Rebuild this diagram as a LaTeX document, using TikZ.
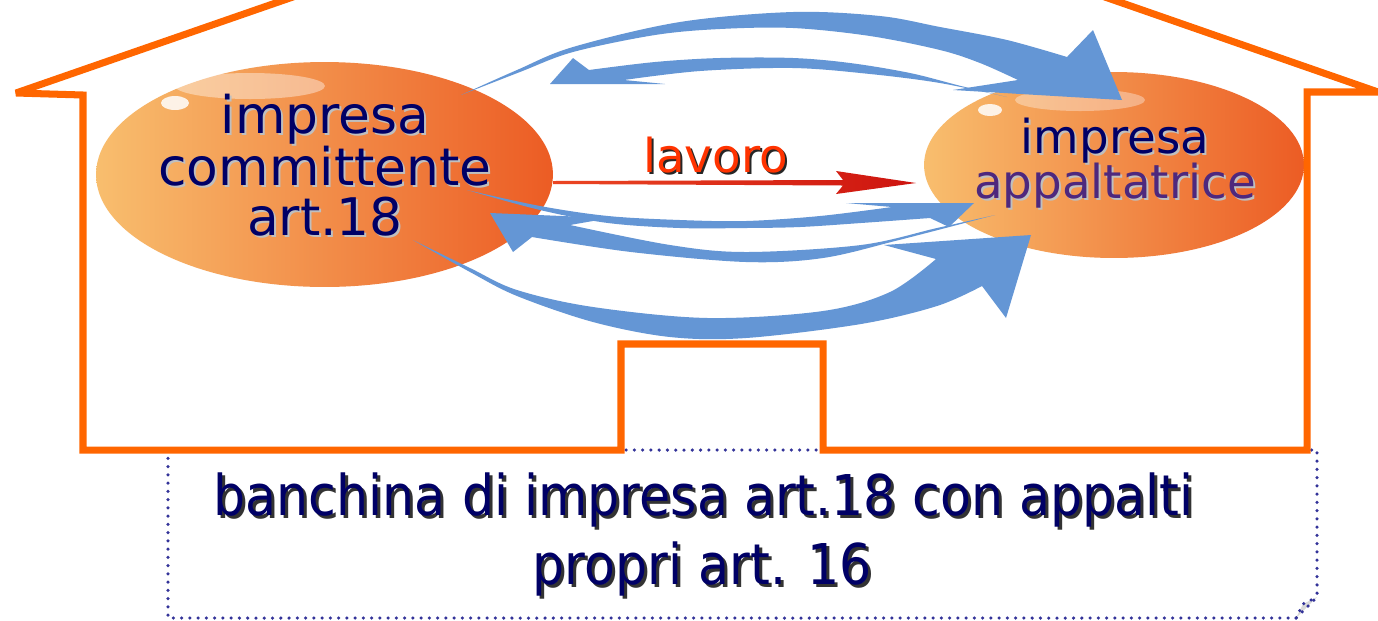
\documentclass[tikz,border=0pt]{standalone}
\usepackage{fontspec}
\setmainfont{DejaVu Sans}
\newfontfamily\condfont[FakeStretch=0.9]{DejaVu Sans}
\usetikzlibrary{shapes.geometric}
\definecolor{housec}{RGB}{255,102,0}
\definecolor{arrowc}{RGB}{100,150,213}
\definecolor{navyc}{RGB}{0,0,102}
\definecolor{purplec}{RGB}{78,40,125}
\definecolor{redc}{RGB}{255,51,0}
\definecolor{dotc}{RGB}{51,51,153}
\definecolor{orlight}{RGB}{248,190,110}
\definecolor{ormid}{RGB}{246,150,70}
\definecolor{ordark}{RGB}{236,92,36}
\definecolor{lavl}{RGB}{235,70,35}
\definecolor{lavr}{RGB}{205,20,15}
% name, position, font, colour, shadow colour, shadow shift, text
\newcommand\shlabel[7]{%
  \node[lbl, text=#4, font=#3] (#1) at #2
    {\rlap{\hspace{#6}\raisebox{-#6}{\textcolor{#5}{#7}}}#7};}
\begin{document}
\begin{tikzpicture}[x=0.02cm,y=-0.02cm,
  house/.style={draw=housec, line width=4pt, line join=miter, miter limit=3},
  flow/.style={fill=arrowc},
  dotbox/.style={draw=dotc, line width=2pt, line cap=round, dash pattern=on 0pt off 4.7pt},
  blob/.style={ellipse, inner sep=0pt, left color=orlight, middle color=ormid, right color=ordark},
  lbl/.style={anchor=base, inner sep=0pt, align=center},
  sm/.style={smooth, tension=0.55},
]
\useasboundingbox (0,0) rectangle (1378,620);
\fill[white] (0,0) rectangle (1378,620);

% dotted frame with folded corner
\fill[gray!30] (1296,618) -- (1317,597) -- (1303,604) -- cycle;
\draw[dotbox] (168,450) -- (168,618) -- (1296,618) -- (1317,597) -- (1317,450) -- cycle;
\draw[dotbox] (1296,618) -- (1303,604) -- (1317,597);

% the two companies
\node[blob, minimum width=9.14cm, minimum height=4.5cm] (L) at (324.5,174.5) {};
\node[blob, minimum width=7.6cm, minimum height=3.72cm] (R) at (1114,165) {};
\fill[white, opacity=0.40] (250,86) ellipse [x radius=1.5cm, y radius=0.26cm];
\fill[white, opacity=0.85] (175,103) ellipse [x radius=0.28cm, y radius=0.14cm];
\fill[white, opacity=0.35] (1080,100) ellipse [x radius=1.3cm, y radius=0.22cm];
\fill[white, opacity=0.85] (990,110) ellipse [x radius=0.24cm, y radius=0.12cm];

% blue flows
\fill[flow] (461,95) -- plot[sm] coordinates {(461,95) (517,70) (573,47) (680,22) (793,12) (880,16) (940,27) (1007,40) (1067,57)}
  -- (1093,30) -- (1122,100) -- (953,90) -- (1018,80)
  -- plot[sm] coordinates {(1018,80) (980,63) (940,50) (870,36) (793,28) (720,29) (655,35) (573,52) (520,72) (461,95)} -- cycle;
\fill[flow] (1007,97) -- plot[sm] coordinates {(1007,97) (961,86) (910,73) (850,63) (793,58) (720,58) (655,62) (589,70)}
  -- (573,58) -- (550,84) -- (665,84) -- (624,80)
  -- plot[sm] coordinates {(624,80) (700,71) (793,68) (870,74) (940,83) (1007,97)} -- cycle;
\fill[flow] (467,190) -- plot[sm] coordinates {(467,190) (540,206) (608,216) (680,220) (746,221) (820,216) (892,207)}
  -- (846,203) -- (974,203) -- (949,227) -- (930,218)
  -- plot[sm] coordinates {(930,218) (861,223) (800,227) (746,228) (680,228) (608,223) (540,210) (467,190)} -- cycle;
\fill[flow] (995,215) -- plot[sm] coordinates {(995,215) (937,228) (861,245) (746,252) (670,245) (570,225)}
  -- (610,218) -- (490,213) -- (513,252) -- (532,237)
  -- plot[sm] coordinates {(532,237) (631,252) (746,262) (823,258) (899,240) (995,215)} -- cycle;
\fill[flow] (413,240) -- plot[sm] coordinates {(413,240) (470,268) (517,290) (593,307) (708,318) (823,311) (890,292) (936,259)}
  -- (884,245) -- (1031,235) -- (1006,318) -- (982,286)
  -- plot[sm] coordinates {(982,286) (937,306) (861,324) (746,338) (670,337) (593,322) (517,296) (470,272) (413,240)} -- cycle;

% red work arrow
\shade[left color=lavl, right color=lavr] (553,181) -- (843,180) -- (836,171) -- (916,183) -- (836,194) -- (843,185.5) -- (553,184) -- cycle;

% labels
\shlabel{l1}{(325,133)}{\fontsize{29.5}{29}\selectfont}{navyc}{black!25}{0.04cm}{impresa}
\shlabel{l2}{(325,185)}{\fontsize{29.5}{29}\selectfont}{navyc}{black!25}{0.04cm}{committente}
\shlabel{l3}{(325,235)}{\fontsize{29.5}{29}\selectfont}{navyc}{black!25}{0.04cm}{art.18}
\shlabel{r1}{(1115,153)}{\fontsize{26.6}{26}\selectfont}{navyc}{black!25}{0.04cm}{impresa}
\shlabel{r2}{(1115,198)}{\fontsize{26.6}{26}\selectfont}{purplec}{black!25}{0.04cm}{appaltatrice}
\shlabel{lav}{(715.5,172)}{\fontsize{26.6}{26}\selectfont}{redc}{black!85}{0.04cm}{lavoro}
\shlabel{b1}{(703.5,515)}{\condfont\fontsize{32}{32}\selectfont}{navyc}{black!80}{0.06cm}{banchina di impresa art.18 con appalti}
\shlabel{b2}{(702.5,584)}{\condfont\fontsize{32}{32}\selectfont}{navyc}{black!80}{0.06cm}{propri art. 16}

% house outline
\begin{scope}
\clip (0,0) rectangle (1378,620);
\draw[house] (699.5,-144) -- (16,93) -- (83,95) -- (83,450) -- (621,450) -- (621,344) -- (823,344)
  -- (823,450) -- (1307,450) -- (1307,92) -- (1378,92) -- cycle;
\end{scope}
\end{tikzpicture}
\end{document}
